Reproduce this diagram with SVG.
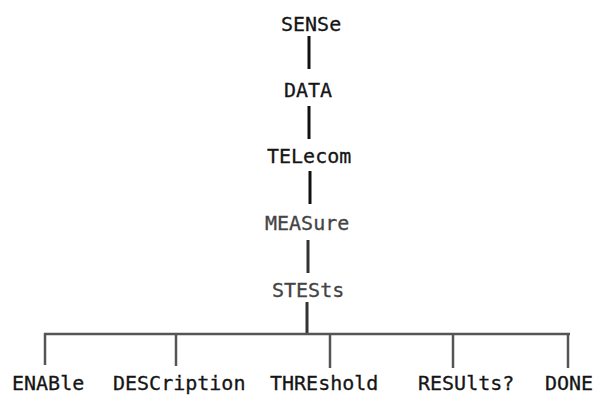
<svg xmlns="http://www.w3.org/2000/svg" width="595" height="400" viewBox="0 0 595 400">
<style>
text{font-family:"DejaVu Sans Mono","Liberation Mono",monospace;font-size:20px;fill:#151515;stroke:#151515;stroke-width:0.3}
.g{fill:#444;stroke:#444}
.c line{stroke:#111;stroke-width:3;stroke-linecap:butt}
.c .h{stroke:#555;stroke-width:2.5}
</style>
<rect width="595" height="400" fill="#fff"/>
<g class="c" id="connectors">
<line x1="309" y1="36" x2="309" y2="69"/>
<line x1="309" y1="106" x2="309" y2="139"/>
<line x1="310" y1="171" x2="310" y2="204"/>
<line x1="308" y1="240" x2="308" y2="273" style="stroke:#333"/>
<line x1="307" y1="302" x2="307" y2="334" style="stroke:#333"/>
<line class="h" x1="44" y1="334" x2="570" y2="334"/>
<line class="h" x1="45" y1="333" x2="45" y2="365"/>
<line class="h" x1="176" y1="333" x2="176" y2="366"/>
<line class="h" x1="330" y1="333" x2="330" y2="368"/>
<line class="h" x1="453" y1="333" x2="453" y2="368"/>
<line class="h" x1="568" y1="333" x2="568" y2="368"/>
</g>
<g id="SENSe"><text x="281" y="31">SENSe</text></g>
<g id="DATA"><text x="284" y="97">DATA</text></g>
<g id="TELecom"><text x="267" y="163">TELecom</text></g>
<g id="MEASure"><text class="g" x="265" y="230">MEASure</text></g>
<g id="STESts"><text class="g" x="272" y="297">STESts</text></g>
<g id="ENABle"><text x="12" y="390">ENABle</text></g>
<g id="DESCription"><text x="113" y="390">DESCription</text></g>
<g id="THREshold"><text x="270" y="390">THREshold</text></g>
<g id="RESUlts"><text x="418" y="390">RESUlts?</text></g>
<g id="DONE"><text x="545" y="390">DONE</text></g>
</svg>
